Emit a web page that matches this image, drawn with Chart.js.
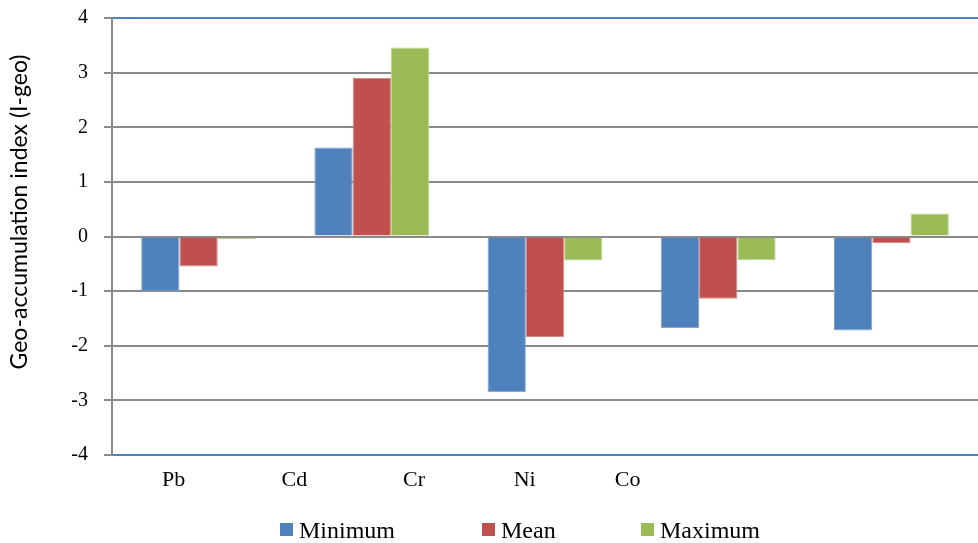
<!DOCTYPE html>
<html>
<head>
<meta charset="utf-8">
<script src="https://cdn.jsdelivr.net/npm/chart.js@4/dist/chart.umd.min.js"></script>
<style>
  html, body { margin: 0; padding: 0; background: #ffffff; }
  #wrap { width: 978px; height: 543px; }
</style>
</head>
<body>
<div id="wrap"><canvas id="chart" width="978" height="543"></canvas></div>
<script>
// Geo-accumulation index per metal
const categories = ['Pb', 'Cd', 'Cr', 'Ni', 'Co'];
const minimum = [-1.00, 1.63, -2.85, -1.68, -1.72];
const mean    = [-0.55, 2.90, -1.84, -1.14, -0.12];
const maximum = [-0.05, 3.46, -0.44, -0.43, 0.42];
const seriesNames = ['Minimum', 'Mean', 'Maximum'];
const axisTitle = 'Geo-accumulation index (I-geo)';

// Where the element names sit along the bottom, in category units
const labelSlots = [0.356, 1.053, 1.744, 2.383, 2.977];

const BLUE = '#4F81BD', RED = '#C0504D', GREEN = '#9BBB59';
const GRID = '#8a8a8a';
const SERIF = '"Liberation Serif", "Times New Roman", serif';

// Legend and rotated axis title drawn directly on the canvas
const decorations = {
  id: 'decorations',
  afterDraw(chart) {
    const ctx = chart.ctx;
    ctx.save();
    // axis title
    ctx.translate(20, 212);
    ctx.rotate(-Math.PI / 2);
    ctx.fillStyle = '#000';
    ctx.font = '23px Lato, "Open Sans", sans-serif';
    ctx.textAlign = 'center';
    ctx.textBaseline = 'middle';
    ctx.fillText(axisTitle, 0, 0);
    ctx.restore();

    // legend
    const xs = [280, 482, 641];
    ctx.save();
    ctx.font = '24px ' + SERIF;
    ctx.textBaseline = 'alphabetic';
    ctx.textAlign = 'left';
    chart.data.datasets.forEach((ds, i) => {
      ctx.fillStyle = ds.backgroundColor;
      ctx.fillRect(xs[i], 523, 13, 13);
      ctx.fillStyle = '#000';
      ctx.fillText(ds.label, xs[i] + 19, 537.5);
    });
    ctx.restore();
  }
};

new Chart(document.getElementById('chart'), {
  type: 'bar',
  data: {
    labels: categories,
    datasets: [
      { label: seriesNames[0], data: minimum, backgroundColor: BLUE,  borderColor: '#7fa3d1' },
      { label: seriesNames[1], data: mean,    backgroundColor: RED,   borderColor: '#d98886' },
      { label: seriesNames[2], data: maximum, backgroundColor: GREEN, borderColor: '#bcd48f' }
    ]
  },
  options: {
    responsive: false,
    animation: false,
    layout: { padding: { left: 0, right: -9, top: 18, bottom: 0 } },
    datasets: {
      bar: { barPercentage: 1.0, categoryPercentage: 0.663, borderWidth: 1 }
    },
    plugins: {
      legend: { display: false },
      tooltip: { enabled: false }
    },
    scales: {
      x: {
        type: 'category',
        position: 'bottom',
        grid: { display: false },
        border: { display: false },
        ticks: { display: false },
        afterFit(s) { s.height = 0; }
      },
      names: {
        type: 'linear',
        axis: 'x',
        position: 'bottom',
        offset: false,
        min: 0,
        max: categories.length,
        grid: { display: false, drawTicks: false, offset: false },
        border: { display: false },
        afterBuildTicks(s) { s.ticks = labelSlots.map(v => ({ value: v })); },
        afterFit(s) { s.height = 88; },
        ticks: {
          autoSkip: false,
          maxRotation: 0,
          padding: 12,
          color: '#000',
          font: { family: SERIF, size: 22 },
          callback: (v, i) => categories[i]
        }
      },
      y: {
        min: -4,
        max: 4,
        afterFit(s) {
          s.width = 112;
          s.paddingTop = 0;
          s.paddingBottom = 0;
        },
        ticks: {
          stepSize: 1,
          padding: 16,
          color: '#000',
          font: { family: SERIF, size: 20 }
        },
        border: { color: GRID, width: 2 },
        grid: {
          lineWidth: 2,
          tickLength: 8,
          tickColor: GRID,
          color: c => (c.tick && Math.abs(c.tick.value) === 4) ? BLUE : GRID
        }
      }
    }
  },
  plugins: [decorations]
});
</script>
</body>
</html>
